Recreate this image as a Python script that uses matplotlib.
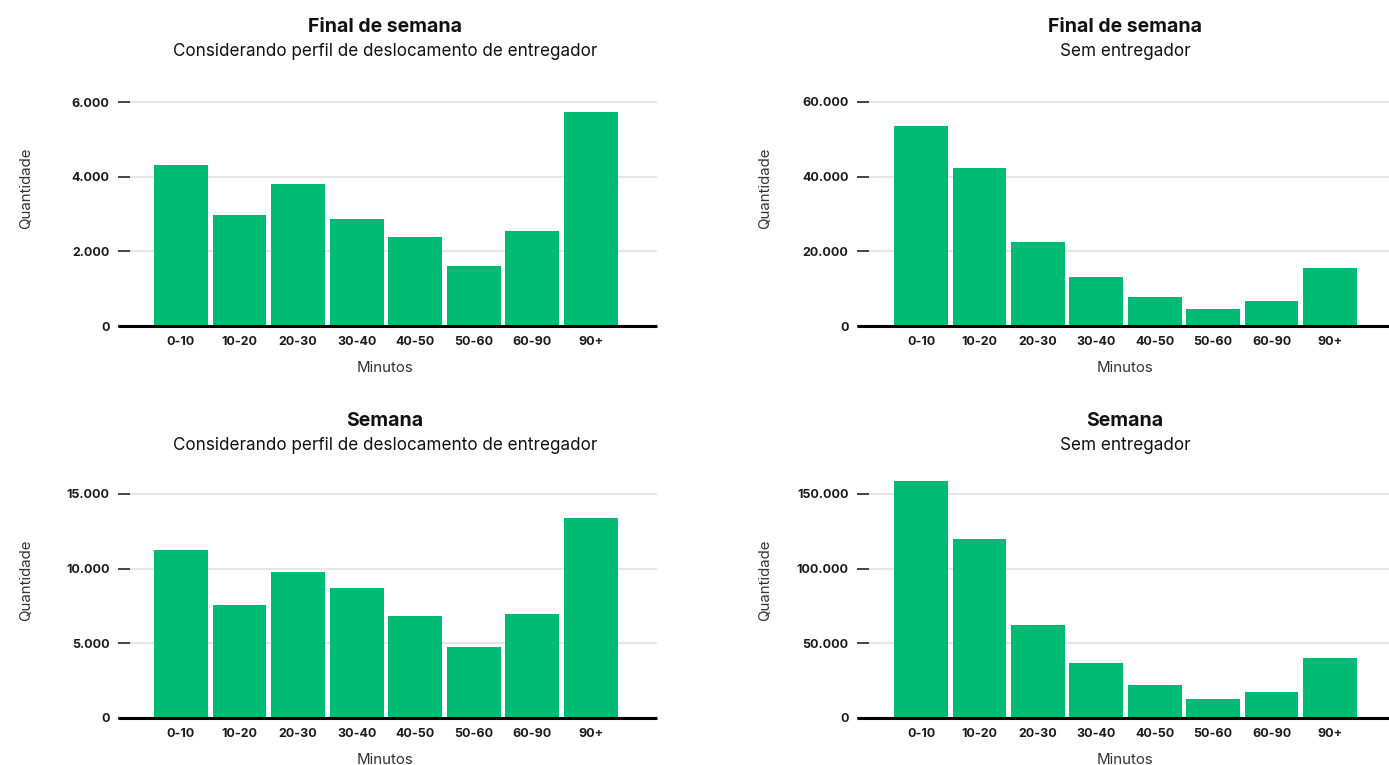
import matplotlib
matplotlib.use("Agg")
import matplotlib.pyplot as plt
from matplotlib.ticker import FuncFormatter

plt.rcParams["font.family"] = ["Inter", "DejaVu Sans"]

categorias = ["0-10", "10-20", "20-30", "30-40", "40-50", "50-60", "60-90", "90+"]

# quantidade de pedidos por faixa de tempo (minutos)
fds_entregador = [4300, 2980, 3815, 2875, 2390, 1610, 2555, 5720]
fds_sem_entregador = [53450, 42450, 22570, 13160, 7790, 4570, 6720, 15580]
semana_entregador = [11260, 7570, 9780, 8710, 6830, 4750, 6960, 13410]
semana_sem_entregador = [158950, 120000, 62240, 36720, 21940, 12540, 17240, 40080]

ticks_fds_entregador = [0, 2000, 4000, 6000]
ticks_fds_sem = [0, 20000, 40000, 60000]
ticks_semana_entregador = [0, 5000, 10000, 15000]
ticks_semana_sem = [0, 50000, 100000, 150000]

titulos = ["Final de semana", "Final de semana", "Semana", "Semana"]
subtitulos = [
    "Considerando perfil de deslocamento de entregador",
    "Sem entregador",
    "Considerando perfil de deslocamento de entregador",
    "Sem entregador",
]

VERDE = "#00BB73"
W, H = 1389, 765

fig = plt.figure(figsize=(W / 100, H / 100), dpi=100)


def milhar(v, pos):
    return f"{int(v):,}".replace(",", ".")


def painel(x0, x1, y_base, y_titulo, valores, ticks, xlim, titulo, subtitulo, centro):
    # y_base: pixel (from top) of the zero line; max tick sits 224 px above it
    altura = 224 * 1.11
    ax = fig.add_axes([x0 / W, (H - y_base) / H, (x1 - x0) / W, altura / H])
    pos = range(len(categorias))
    ax.bar(pos, valores, width=0.92, color=VERDE, zorder=2)
    ax.set_xlim(*xlim)
    ax.set_ylim(0, ticks[-1] * 1.11)
    ax.set_yticks(ticks)
    ax.yaxis.set_major_formatter(FuncFormatter(milhar))
    ax.set_xticks(list(pos))
    ax.set_xticklabels(categorias)
    for s in ax.spines.values():
        s.set_visible(False)
    ax.yaxis.grid(True, color="#e4e4e4", lw=1.3)
    ax.set_axisbelow(True)
    ax.tick_params(axis="y", length=8.6, width=1.4, color="#444", pad=6,
                   labelsize=9, labelcolor="#1a1a1a")
    ax.tick_params(axis="x", length=0, pad=7, labelsize=9, labelcolor="#1a1a1a")
    for lbl in ax.get_xticklabels() + ax.get_yticklabels():
        lbl.set_fontweight("bold")
    # zero line runs under the tick marks too
    ax.plot([-12 / (x1 - x0), 1], [0, 0], transform=ax.get_yaxis_transform(),
            color="black", lw=2.2, clip_on=False, zorder=3, solid_capstyle="butt")

    fig.text(centro / W, 1 - y_titulo / H, titulo, ha="center", va="center",
             fontsize=14, fontweight="bold", color="#111")
    fig.text(centro / W, 1 - (y_titulo + 24) / H, subtitulo, ha="center", va="center",
             fontsize=12.3, color="#111")
    fig.text(centro / W, 1 - (y_base + 42) / H, "Minutos", ha="center", va="center",
             fontsize=10.8, color="#333")
    fig.text((x0 - 104) / W, 1 - (y_base - 138) / H, "Quantidade", ha="center",
             va="center", rotation=90, fontsize=10.8, color="#333")
    return ax


painel(130, 657, 326, 27, fds_entregador, ticks_fds_entregador, (-0.87, 8.13),
       titulos[0], subtitulos[0], 385)
painel(869, 1389, 326, 27, fds_sem_entregador, ticks_fds_sem, (-0.89, 8.01),
       titulos[1], subtitulos[1], 1125)
painel(130, 657, 718, 421, semana_entregador, ticks_semana_entregador, (-0.87, 8.13),
       titulos[2], subtitulos[2], 385)
painel(869, 1389, 718, 421, semana_sem_entregador, ticks_semana_sem, (-0.89, 8.01),
       titulos[3], subtitulos[3], 1125)

fig.savefig("out.png", dpi=100, facecolor="white")
